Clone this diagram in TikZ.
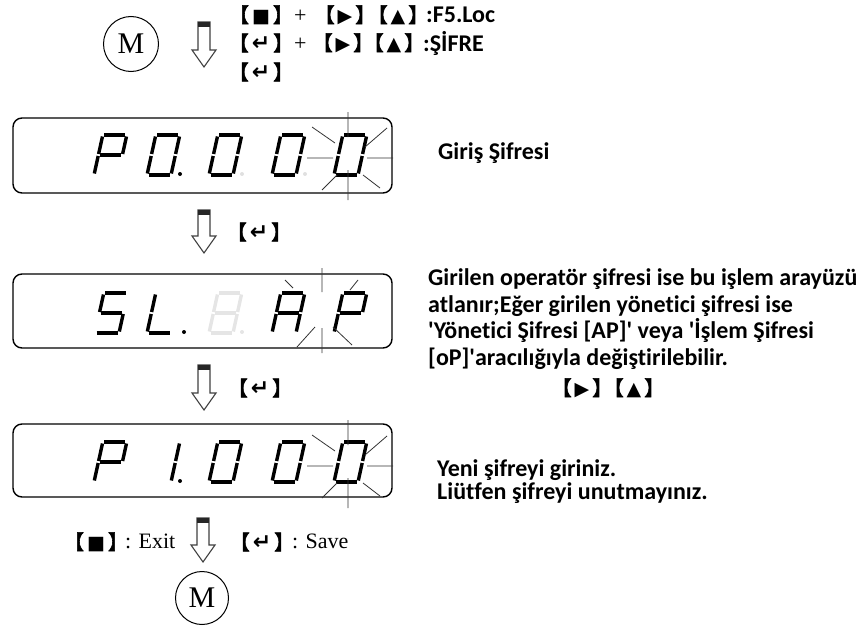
\documentclass[tikz,border=0pt]{standalone}
\usepackage{fontspec}
\setmainfont{Liberation Serif}
\newfontfamily\calb{Carlito}[Ligatures={NoCommon}]
\newfontfamily\cjk{Noto Sans CJK SC}[FakeBold=3]
\newfontfamily\dvs{DejaVu Sans}
\newcommand\LBk{{\cjk 【}}
\newcommand\RBk{{\cjk 】}}
\newcommand\symS{{\dvs\fontsize{19}{19}\selectfont ■}}
\newcommand\symR{{\dvs\fontsize{19}{19}\selectfont ▶}}
\newcommand\symU{{\dvs\fontsize{19}{19}\selectfont ▲}}
\newcommand\symE{{\dvs\bfseries\fontsize{22}{22}\selectfont ↵}}
\newcommand\keyb[1]{\LBk\hspace{3pt}#1\hspace{3pt}\RBk}
\newcommand\sga{\draw[segline] (1.5,-40)--(22.5,-40);}
\newcommand\sgb{\draw[segline] (24,-38.5)--(24,-21);}
\newcommand\sgc{\draw[segline] (24,-19)--(24,-1.5);}
\newcommand\sgd{\draw[segline] (1.5,0)--(22.5,0);}
\newcommand\sge{\draw[segline] (0,-1.5)--(0,-19);}
\newcommand\sgf{\draw[segline] (0,-21)--(0,-38.5);}
\newcommand\sgg{\draw[segline] (1.5,-20)--(22.5,-20);}
\newcommand\sdigit[4][black]{\begin{scope}[shift={(#2,#3)},xslant=0.22,color=#1]
 \foreach \s in {#4}{\csname sg\s\endcsname}\end{scope}}
\newcommand\sdot[3][black]{\fill[#1] ({#2+33},{#3-1}) circle (2);}
\newcommand\harrow[4]{% name, cx, top, length
 \begin{scope}[shift={(#2,#3)}]
 \coordinate (#1-top) at (0,0);
 \coordinate (#1-tip) at (0,#4);
 \draw[harr] (-6,0) -- (6,0) -- (6,{#4-17}) -- (12,{#4-17}) -- (0,#4) -- (-12,{#4-17}) -- (-6,{#4-17}) -- cycle;
 \fill[black!85] (-6,0) rectangle (6,5);
 \end{scope}}
\begin{document}
\begin{tikzpicture}[x=1pt,y=-1pt,
 segline/.style={line width=3.4pt},
 ray/.style={line width=0.8pt,black!80},
 harr/.style={line width=1.1pt,black!75,fill=white},
 display/.style={draw,line width=1.4pt,rounded corners=9pt,minimum width=379pt,inner sep=0},
 mcirc/.style={draw,circle,line width=1pt,inner sep=0,font=\fontsize{30}{30}\selectfont},
 ctxt/.style={font=\calb\bfseries\fontsize{24}{28}\selectfont,inner sep=0,anchor=base west},
 stxt/.style={font=\fontsize{22}{24}\selectfont,inner sep=0,anchor=base west},
 key/.style={font=\fontsize{20}{24}\selectfont,inner sep=0,anchor=center}]
\useasboundingbox (0,0) rectangle (863,629);
% top
\node[mcirc,minimum size=55pt] (m1) at (131,44) {M};
\harrow{a1}{204}{22}{45}
\node[key] (t1k) at (261,15) {\keyb{\symS}};
\node[stxt] (t1p) at (294,22) {+};
\node[key] (t1k2) at (345,15) {\keyb{\symR}};
\node[key] (t1k3) at (398,15) {\keyb{\symU}};
\node[ctxt] (t1l) at (426,23) {:F5.Loc};
\node[key] (t2k) at (261,43) {\keyb{\symE}};
\node[stxt] (t2p) at (294,50) {+};
\node[key] (t2k2) at (343,43) {\keyb{\symR}};
\node[key] (t2k3) at (394,43) {\keyb{\symU}};
\node[ctxt] (t2l) at (423,51) {:ŞİFRE};
\node[key] (t3k) at (261,72) {\keyb{\symE}};
% display 1
\node[display,minimum height=75pt] (d1) at (202.5,155.5) {};
\sdigit{94}{175}{a,b,e,f,g}
\sdigit{147}{175}{a,b,c,d,e,f}
\sdot{147}{175}
\sdigit{209}{175}{a,b,c,d,e,f}
\sdot[black!12]{209}{175}
\sdigit{272}{175}{a,b,c,d,e,f}
\sdot[black!12]{272}{175}
\sdigit{334}{175}{a,b,c,d,e,f}
\draw[ray] (348,112)--(348,137) (348,170)--(348,200) (307,158)--(333,158) (367,158)--(393,158)
 (312,127)--(335,143) (387,128)--(365,147) (322,190)--(337,175) (363,175)--(380,188);
\node[ctxt] (g1) at (438,159) {Giriş Şifresi};
% arrow 2
\harrow{a2}{204}{210}{43}
\node[key] (k2) at (259,232) {\keyb{\symE}};
% display 2
\node[display,minimum height=74pt] (d2) at (202.5,311) {};
\sdigit{95}{333}{a,f,g,c,d}
\sdigit{147}{333}{f,e,d}
\sdot{151}{333}
\sdigit[black!10]{209}{333}{a,b,c,d,e,f,g}
\sdot[black!10]{209}{333}
\sdigit{272}{333}{a,b,c,e,f,g}
\sdigit{334}{333}{a,b,e,f,g}
\draw[ray] (322,268)--(322,292) (322,328)--(322,353) (285,280)--(293,288) (358,280)--(350,290)
 (297,347)--(315,327) (333,327)--(352,345);
\node[ctxt] (p1) at (428,285) {Girilen operatör şifresi ise bu işlem arayüzü};
\node[ctxt] (p2) at (428,312) {atlanır;Eğer girilen yönetici şifresi ise};
\node[ctxt] (p3) at (428,338) {\textquotesingle Yönetici Şifresi [AP]\textquotesingle\ veya \textquotesingle İşlem Şifresi};
\node[ctxt] (p4) at (428,365) {[oP]\textquotesingle aracılığıyla değiştirilebilir.};
\node[key] (p5) at (582,388) {\keyb{\symR}};
\node[key] (p6) at (634,388) {\keyb{\symU}};
% arrow 3
\harrow{a3}{204}{365}{45}
\node[key] (k3) at (260,388) {\keyb{\symE}};
% display 3
\node[display,minimum height=73pt] (d3) at (202.5,460.5) {};
\sdigit{94}{482}{a,b,e,f,g}
\sdigit{147}{482}{b,c}
\sdot{147}{482}
\sdigit{209}{482}{a,b,c,d,e,f}
\sdigit{272}{482}{a,b,c,d,e,f}
\sdigit{334}{482}{a,b,c,d,e,f}
\draw[ray] (348,420)--(348,445) (348,478)--(348,508) (307,466)--(333,466) (367,466)--(393,466)
 (312,435)--(335,451) (387,436)--(365,455) (322,498)--(337,483) (363,483)--(380,496);
\node[ctxt] (y1) at (437,476) {Yeni şifreyi giriniz.};
\node[ctxt] (y2) at (437,499) {Liütfen şifreyi unutmayınız.};
% bottom
\node[key] (bx) at (96,542) {\keyb{\symS}};
\node[stxt] (bxl) at (125,548) {: Exit};
\harrow{a4}{203}{518}{44}
\node[key] (bs) at (262,542) {\keyb{\symE}};
\node[stxt] (bsl) at (292,548) {: Save};
\node[mcirc,minimum size=53pt] (m2) at (202,598) {M};
\end{tikzpicture}
\end{document}
